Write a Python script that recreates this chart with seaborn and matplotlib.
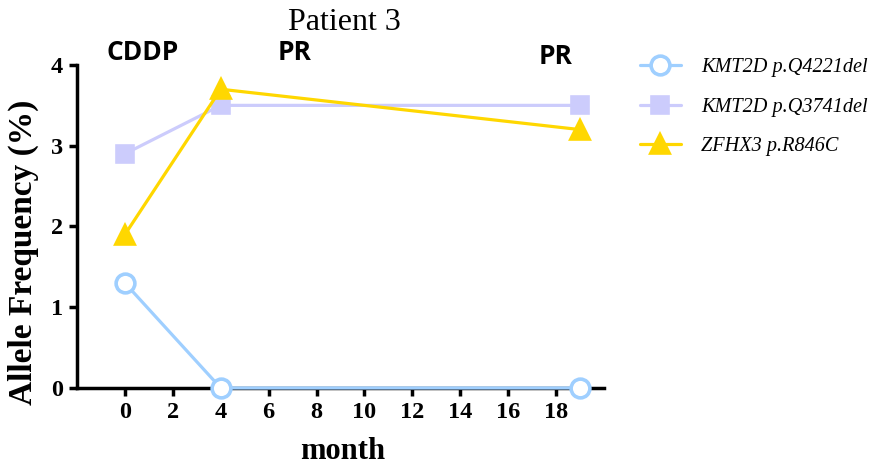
import pandas as pd
import matplotlib
matplotlib.use('Agg')
import matplotlib.pyplot as plt
import seaborn as sns

# data
months = [0, 4, 19]
q4221del = [1.3, 0.0, 0.0]
q3741del = [2.9, 3.5, 3.5]
r846c = [1.9, 3.7, 3.2]
labels = ['KMT2D p.Q4221del', 'KMT2D p.Q3741del', 'ZFHX3 p.R846C']
notes = ['CDDP', 'PR', 'PR']
note_x = [0.75, 7.1, 18.0]
note_y = [4.15, 4.15, 4.1]

colors = ['#9fcfff', '#ccccfc', '#ffd700']
markers = ['o', 's', '^']
sizes = [13.5, 12, 13]

df = pd.DataFrame({
    'month': months * 3,
    'freq': q4221del + q3741del + r846c,
    'mutation': [labels[0]] * 3 + [labels[1]] * 3 + [labels[2]] * 3,
})

sns.set_style('ticks')
plt.rcParams['font.family'] = ['Liberation Serif', 'DejaVu Serif']
plt.rcParams['text.color'] = 'black'
plt.rcParams['axes.labelcolor'] = 'black'
plt.rcParams['xtick.color'] = 'black'
plt.rcParams['ytick.color'] = 'black'
plt.rcParams['axes.edgecolor'] = 'black'

fig = plt.figure(figsize=(8.71, 4.67), dpi=100)
ax = fig.add_axes([0.0884, 0.1692, 0.605, 0.6916])

for i, lab in enumerate(labels):
    face = 'white' if markers[i] == 'o' else colors[i]
    sns.lineplot(data=df[df['mutation'] == lab], x='month', y='freq', ax=ax,
                 color=colors[i], marker=markers[i], markersize=sizes[i],
                 markerfacecolor=face, markeredgecolor=colors[i], markeredgewidth=2.6,
                 linewidth=2.3, label=lab, clip_on=False, zorder=3 + i)

ax.set_xlim(-2, 20)
ax.set_ylim(0, 4)
ax.set_xticks(range(0, 19, 2))
ax.set_yticks(range(0, 5))
sns.despine(ax=ax)
for s in ['left', 'bottom']:
    ax.spines[s].set_linewidth(2.5)
ax.tick_params(width=2.5, length=6, labelsize=17.5, pad=4)
for t in ax.get_xticklabels() + ax.get_yticklabels():
    t.set_fontweight('bold')

ax.set_xlabel('month', fontsize=22, fontweight='bold', va='center')
ax.xaxis.set_label_coords(0.505, -0.198)
ax.set_ylabel('Allele Frequency (%)', fontsize=24, fontweight='bold', va='center')
ax.yaxis.set_label_coords(-0.1025, 0.42)
fig.text(344 / 871, 1 - 22 / 467, 'Patient 3', fontsize=23, ha='center', va='center')

for txt, x, y in zip(notes, note_x, note_y):
    ax.text(x, y, txt, fontsize=19, fontweight='bold', family=['Open Sans', 'DejaVu Sans'],
            ha='center', va='center', clip_on=False)

handles, hl = ax.get_legend_handles_labels()
if ax.legend_:
    ax.legend_.remove()
fig.legend(handles, hl, loc='upper left', bbox_to_anchor=(640 / 871, 1 - 58 / 467),
           frameon=False, borderpad=0, borderaxespad=0,
           prop={'style': 'italic', 'size': 14.6}, handlelength=2.0, handletextpad=1.0,
           labelspacing=1.0)

fig.savefig('out.png', dpi=100)
